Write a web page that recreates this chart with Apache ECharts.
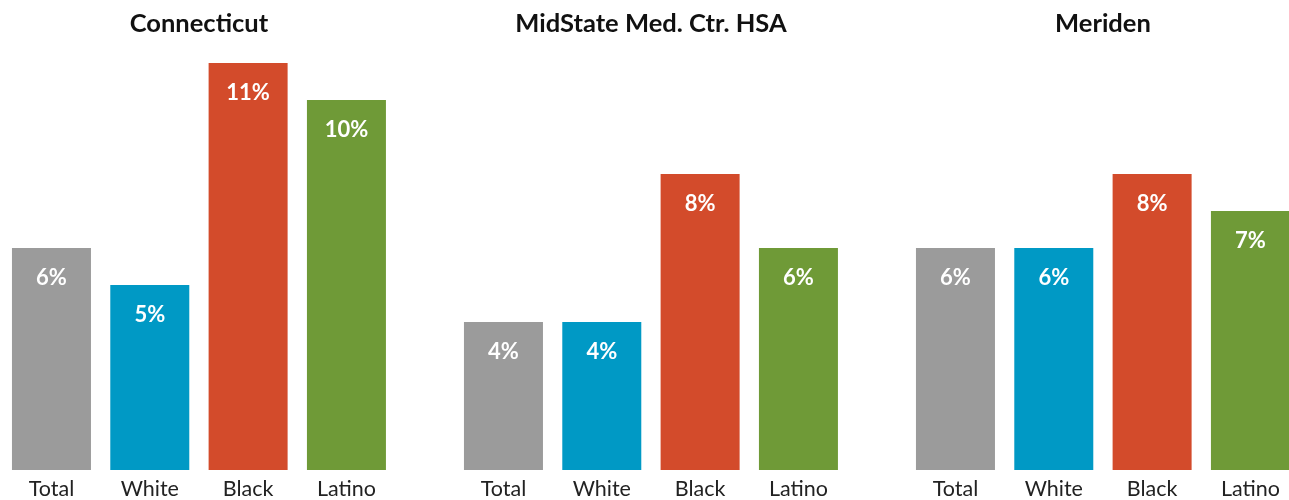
<!DOCTYPE html>
<html>
<head>
<meta charset="utf-8">
<script src="https://cdn.jsdelivr.net/npm/echarts@6/dist/echarts.min.js"></script>
<style>
  html, body { margin: 0; padding: 0; background: #fff; }
  #chart { width: 1289px; height: 500px; }
</style>
</head>
<body>
<div id="chart"></div>
<script>
// Percentages by group for each area
const categories = ['Total', 'White', 'Black', 'Latino'];
const areaNames = ['Connecticut', 'MidState Med. Ctr. HSA', 'Meriden'];
const connecticut = [6, 5, 11, 10];
const midstate = [4, 4, 8, 6];
const meriden = [6, 6, 8, 7];

const seriesValues = [connecticut, midstate, meriden];
const palette = ['#9b9b9b', '#0099c5', '#d34b2b', '#6f9a37'];
const fontFamily = 'Lato, "Source Sans Pro", "Noto Sans", sans-serif';

// Panel geometry: each panel is its own grid, side by side
const panelLeft = [2.3, 454.3, 906.3];
const panelWidth = 393.3;

const chart = echarts.init(document.getElementById('chart'));

const option = {
  animation: false,
  backgroundColor: '#ffffff',
  title: areaNames.map((name, i) => ({
    text: name,
    left: panelLeft[i] + panelWidth / 2,
    top: 11,
    padding: 0,
    textAlign: 'center',
    textStyle: { fontFamily, fontSize: 25.5, fontWeight: 'bold', color: '#111' }
  })),
  grid: panelLeft.map(l => ({
    left: l, width: panelWidth, top: 26, height: 444,
    outerBoundsMode: 'none', containLabel: false
  })),
  xAxis: areaNames.map((_, i) => ({
    type: 'category',
    gridIndex: i,
    data: categories,
    axisLine: { show: false },
    axisTick: { show: false },
    axisLabel: { fontFamily, fontSize: 21.5, color: '#222', margin: 8 }
  })),
  yAxis: areaNames.map((_, i) => ({
    type: 'value',
    gridIndex: i,
    min: 0,
    max: 12,
    show: false,
    splitLine: { show: false }
  })),
  series: seriesValues.map((vals, i) => ({
    type: 'bar',
    xAxisIndex: i,
    yAxisIndex: i,
    data: vals,
    barWidth: 79,
    itemStyle: { color: p => palette[p.dataIndex] },
    label: {
      show: true,
      position: ['50%', 29.5],
      align: 'center',
      verticalAlign: 'middle',
      formatter: '{c}%',
      fontFamily,
      fontSize: 22,
      fontWeight: 'bold',
      color: '#ffffff'
    }
  }))
};

chart.setOption(option);
</script>
</body>
</html>
